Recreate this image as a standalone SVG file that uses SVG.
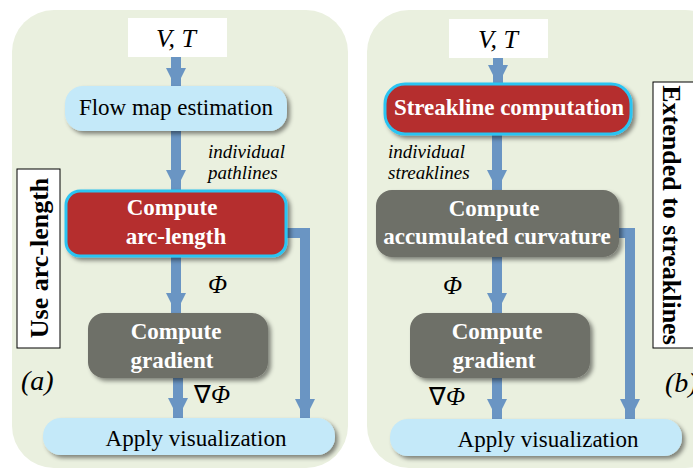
<svg xmlns="http://www.w3.org/2000/svg" width="693" height="472" viewBox="0 0 693 472">
<defs>
<filter id="sh" x="-10%" y="-20%" width="130%" height="150%">
<feDropShadow dx="3" dy="3" stdDeviation="2" flood-color="#000" flood-opacity="0.45"/>
</filter>
<marker id="ah" markerUnits="userSpaceOnUse" markerWidth="26" markerHeight="20" refX="24" refY="12" orient="auto" viewBox="0 0 26 24">
<path d="M0,0 L24,12 L0,24 Z" fill="#6a95c3"/>
</marker>
</defs>
<style>
.panel{fill:#eaf0df;}
.vt{fill:#fff;}
.lb{fill:#c4e9f9;filter:url(#sh);}
.red{fill:#b52d2d;stroke:#2cc4f2;stroke-width:3;filter:url(#sh);}
.gray{fill:#6e6f67;filter:url(#sh);}
.lab{fill:#fff;stroke:#000;stroke-width:1;}
.conn{fill:none;stroke:#6a95c3;stroke-width:10;}
text{font-family:"Liberation Serif","Times New Roman",serif;}
.t{fill:#000;}
.tw{fill:#fff;font-weight:bold;font-size:23px;}
.it{font-style:italic;}
</style>
<rect class="panel" x="12" y="10" width="336" height="458" rx="42"/>
<rect class="panel" x="367" y="10" width="360" height="458" rx="42"/>

<g id="connectors">
<line class="conn" x1="176" y1="57" x2="176" y2="88" marker-end="url(#ah)"/>
<line class="conn" x1="176" y1="131" x2="176" y2="190" marker-end="url(#ah)"/>
<line class="conn" x1="176" y1="256" x2="176" y2="313" marker-end="url(#ah)"/>
<line class="conn" x1="178" y1="378" x2="178" y2="418" marker-end="url(#ah)"/>
<polyline class="conn" points="284,233 305,233 305,419" marker-end="url(#ah)"/>
<line class="conn" x1="498" y1="58" x2="498" y2="85" marker-end="url(#ah)"/>
<line class="conn" x1="497" y1="135" x2="497" y2="190" marker-end="url(#ah)"/>
<line class="conn" x1="497" y1="257" x2="497" y2="313" marker-end="url(#ah)"/>
<line class="conn" x1="497" y1="378" x2="497" y2="419" marker-end="url(#ah)"/>
<polyline class="conn" points="617,233 630,233 630,419" marker-end="url(#ah)"/>
</g>

<g id="vt-a">
<rect class="vt" x="128" y="18" width="99" height="39"/>
<text class="t it" x="176" y="47" font-size="26" text-anchor="middle" font-family="Liberation Serif, serif">V, T</text>
</g>
<g id="flowmap">
<rect class="lb" x="65" y="86" width="222" height="45" rx="18"/>
<text class="t" x="176" y="115" font-size="23" text-anchor="middle" font-family="Liberation Serif, serif">Flow map estimation</text>
</g>
<g id="label-pathlines">
<text class="t it" x="208" y="158" font-size="19" font-family="Liberation Serif, serif">individual</text>
<text class="t it" x="208" y="179" font-size="19" font-family="Liberation Serif, serif">pathlines</text>
</g>
<g id="arclength">
<rect class="red" x="66" y="191" width="220" height="65" rx="14"/>
<text class="tw" x="172" y="215" text-anchor="middle" font-family="Liberation Serif, serif">Compute</text>
<text class="tw" x="176" y="244" text-anchor="middle" font-family="Liberation Serif, serif">arc-length</text>
</g>
<g id="phi-a"><text class="t it" x="208" y="293" font-size="25" font-family="Liberation Serif, serif">Φ</text></g>
<g id="gradient-a">
<rect class="gray" x="88" y="313" width="180" height="65" rx="16"/>
<text class="tw" x="176" y="339" text-anchor="middle" font-family="Liberation Serif, serif">Compute</text>
<text class="tw" x="172" y="368" text-anchor="middle" font-family="Liberation Serif, serif">gradient</text>
</g>
<g id="gphi-a"><text class="t" x="194" y="403" font-size="25" font-family="Liberation Serif, serif">∇<tspan class="it">Φ</tspan></text></g>
<g id="label-a"><text class="t it" x="21" y="390" font-size="28" font-family="Liberation Serif, serif">(a)</text></g>
<g id="apply-a">
<rect class="lb" x="43" y="418" width="292" height="37" rx="18"/>
<text class="t" x="196" y="446" font-size="23" text-anchor="middle" font-family="Liberation Serif, serif">Apply visualization</text>
</g>
<g id="use-arclength">
<rect class="lab" x="17" y="169" width="43" height="179"/>
<text class="t" transform="translate(48,258) rotate(-90)" font-size="26" font-weight="bold" text-anchor="middle" font-family="Liberation Serif, serif">Use arc-length</text>
</g>

<g id="vt-b">
<rect class="vt" x="449" y="19" width="99" height="39"/>
<text class="t it" x="498" y="48" font-size="26" text-anchor="middle" font-family="Liberation Serif, serif">V, T</text>
</g>
<g id="streakline">
<rect class="red" x="385" y="84" width="246" height="50" rx="20"/>
<text class="tw" x="509" y="115" text-anchor="middle" font-family="Liberation Serif, serif">Streakline computation</text>
</g>
<g id="label-streaklines">
<text class="t it" x="388" y="158" font-size="19" font-family="Liberation Serif, serif">individual</text>
<text class="t it" x="388" y="179" font-size="19" font-family="Liberation Serif, serif">streaklines</text>
</g>
<g id="curvature">
<rect class="gray" x="376" y="190" width="243" height="67" rx="16"/>
<text class="tw" x="494" y="216" text-anchor="middle" font-family="Liberation Serif, serif">Compute</text>
<text class="tw" x="497" y="244" text-anchor="middle" font-family="Liberation Serif, serif">accumulated curvature</text>
</g>
<g id="phi-b"><text class="t it" x="443" y="294" font-size="25" font-family="Liberation Serif, serif">Φ</text></g>
<g id="gradient-b">
<rect class="gray" x="410" y="313" width="180" height="65" rx="16"/>
<text class="tw" x="497" y="339" text-anchor="middle" font-family="Liberation Serif, serif">Compute</text>
<text class="tw" x="494" y="368" text-anchor="middle" font-family="Liberation Serif, serif">gradient</text>
</g>
<g id="gphi-b"><text class="t" x="429" y="405" font-size="25" font-family="Liberation Serif, serif">∇<tspan class="it">Φ</tspan></text></g>
<g id="label-b"><text class="t it" x="665" y="392" font-size="28" font-family="Liberation Serif, serif">(b)</text></g>
<g id="apply-b">
<rect class="lb" x="390" y="419" width="292" height="37" rx="18"/>
<text class="t" x="548" y="447" font-size="23" text-anchor="middle" font-family="Liberation Serif, serif">Apply visualization</text>
</g>
<g id="extended">
<rect class="lab" x="653" y="82" width="60" height="266"/>
<text class="t" transform="translate(663,215) rotate(90)" font-size="26" font-weight="bold" text-anchor="middle" font-family="Liberation Serif, serif">Extended to streaklines</text>
</g>
</svg>
